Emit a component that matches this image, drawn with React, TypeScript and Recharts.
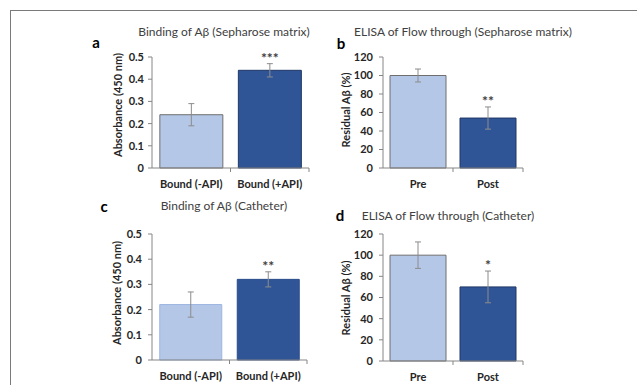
import React from 'react';
import { BarChart, Bar, XAxis, YAxis, ErrorBar, Cell, LabelList } from 'recharts';

// categories
const bindingCategories = ['Bound (-API)', 'Bound (+API)'];
const flowCategories = ['Pre', 'Post'];

// panel a: binding of Aβ, sepharose matrix
const sepharoseBinding = [0.24, 0.44];
const sepharoseBindingErr = [0.05, 0.03];
const sepharoseBindingSig = ['', '***'];

// panel b: ELISA of flow through, sepharose matrix
const sepharoseFlow = [100, 54];
const sepharoseFlowErr = [7, 12];
const sepharoseFlowSig = ['', '**'];

// panel c: binding of Aβ, catheter
const catheterBinding = [0.22, 0.32];
const catheterBindingErr = [0.05, 0.03];
const catheterBindingSig = ['', '**'];

// panel d: ELISA of flow through, catheter
const catheterFlow = [100, 70];
const catheterFlowErr = [12.5, 15];
const catheterFlowSig = ['', '*'];

// tick labels
const absorbanceTicks = [0, 0.1, 0.2, 0.3, 0.4, 0.5];
const residualTicks = [0, 20, 40, 60, 80, 100, 120];

const FONT = 'Lato, "Open Sans", sans-serif';
const AXIS = '#868686';
const LIGHT = '#b4c7e7';
const DARK = '#2f5597';

type Row = { name: string; value: number; err: number; sig: string };

const makeRows = (cats: string[], vals: number[], errs: number[], sigs: string[]): Row[] =>
  cats.map((c, i) => ({ name: c, value: vals[i], err: errs[i], sig: sigs[i] }));

function XTick(props: any) {
  const { x, y, payload, half } = props;
  return (
    <g>
      <line x1={x + half} y1={y} x2={x + half} y2={y + 4} stroke={AXIS} />
      <text x={x} y={y + 19.5} textAnchor="middle" fontFamily={FONT} fontWeight={700} fontSize={11} fill="#262626">
        {payload.value}
      </text>
    </g>
  );
}

const starLabel = (rows: Row[]) => (props: any) => {
  const vb = props.viewBox || props;
  const { x, y, width, height } = vb;
  const row = rows[props.index];
  if (!row || !row.sig) return null;
  const pxPerUnit = height / row.value;
  const top = y - row.err * pxPerUnit - 1;
  return (
    <text x={x + width / 2} y={top} textAnchor="middle" fontFamily={FONT} fontWeight={700} fontSize={14} fill="#404040">
      {row.sig}
    </text>
  );
};

interface PanelProps {
  left: number;
  top: number;
  axisWidth: number;
  plotWidth: number;
  marginTop: number;
  plotHeight: number;
  rows: Row[];
  ticks: number[];
  tickMargin: number;
  lightStroke: string;
  darkStroke: string;
}

function Panel({ left, top, axisWidth, plotWidth, marginTop, plotHeight, rows, ticks, tickMargin, lightStroke, darkStroke }: PanelProps) {
  const width = axisWidth + plotWidth + 4;
  const height = marginTop + plotHeight + 25;
  const half = plotWidth / rows.length / 2;
  return (
    <div style={{ position: 'absolute', left, top }}>
      <BarChart
        width={width}
        height={height}
        data={rows}
        margin={{ top: marginTop, right: 4, bottom: 0, left: 0 }}
        barCategoryGap="10%"
      >
        <XAxis
          dataKey="name"
          height={25}
          interval={0}
          axisLine={{ stroke: AXIS }}
          tickLine={false}
          tickSize={0}
          tickMargin={0}
          tick={(p: any) => <XTick {...p} half={half} />}
        />
        <YAxis
          width={axisWidth}
          domain={[ticks[0], ticks[ticks.length - 1]]}
          ticks={ticks}
          interval={0}
          axisLine={{ stroke: AXIS }}
          tickLine={{ stroke: AXIS }}
          tickSize={4}
          tickMargin={tickMargin}
          tick={{ fontFamily: FONT, fontWeight: 700, fontSize: 11, fill: '#262626' }}
        />
        <Bar dataKey="value" isAnimationActive={false} strokeWidth={1}>
          {rows.map((r, i) => (
            <Cell key={r.name} fill={i === 0 ? LIGHT : DARK} stroke={i === 0 ? lightStroke : darkStroke} />
          ))}
          <ErrorBar dataKey="err" width={3} stroke="#8c8c8c" strokeWidth={1} direction="y" />
          <LabelList dataKey="sig" content={starLabel(rows)} />
        </Bar>
      </BarChart>
    </div>
  );
}

const textAt = (x: number, y: number, extra: React.CSSProperties = {}): React.CSSProperties => ({
  position: 'absolute',
  left: x,
  top: y,
  transform: 'translate(-50%, -50%)',
  whiteSpace: 'nowrap',
  fontFamily: FONT,
  lineHeight: 1,
  ...extra,
});

const titleStyle = { fontSize: 12, color: '#404040' };
const letterStyle = { fontSize: 15, fontWeight: 700, color: '#000' };
const yLabelStyle = { fontSize: 11, fontWeight: 700, color: '#262626', transform: 'translate(-50%, -50%) rotate(-90deg)' };

export default function App() {
  return (
    <div style={{ position: 'absolute', left: 0, top: 0, width: 637, height: 385, background: '#fff', overflow: 'hidden' }}>
      <div style={{ position: 'absolute', left: 10, top: 10, width: 640, height: 400, borderTop: '1px solid #7a7a7a', borderLeft: '1px solid #7a7a7a' }} />

      <Panel left={82} top={20} axisWidth={70} plotWidth={157} marginTop={37} plotHeight={111}
        rows={makeRows(bindingCategories, sepharoseBinding, sepharoseBindingErr, sepharoseBindingSig)}
        ticks={absorbanceTicks} tickMargin={4} lightStroke="#6f6f6f" darkStroke="#1f3864" />
      <Panel left={307} top={20} axisWidth={76} plotWidth={140} marginTop={37} plotHeight={111}
        rows={makeRows(flowCategories, sepharoseFlow, sepharoseFlowErr, sepharoseFlowSig)}
        ticks={residualTicks} tickMargin={6} lightStroke="#6f6f6f" darkStroke="#1f3864" />
      <Panel left={80} top={200} axisWidth={72} plotWidth={155} marginTop={34} plotHeight={126}
        rows={makeRows(bindingCategories, catheterBinding, catheterBindingErr, catheterBindingSig)}
        ticks={absorbanceTicks} tickMargin={6} lightStroke="#9db5e0" darkStroke="#2a4d8c" />
      <Panel left={307} top={200} axisWidth={76} plotWidth={140} marginTop={34} plotHeight={127}
        rows={makeRows(flowCategories, catheterFlow, catheterFlowErr, catheterFlowSig)}
        ticks={residualTicks} tickMargin={6} lightStroke="#6f6f6f" darkStroke="#1f3864" />

      <div style={textAt(224, 32, titleStyle)}>Binding of Aβ (Sepharose matrix)</div>
      <div style={textAt(463, 32, titleStyle)}>ELISA of Flow through (Sepharose matrix)</div>
      <div style={textAt(224, 206, titleStyle)}>Binding of Aβ (Catheter)</div>
      <div style={textAt(448, 216, titleStyle)}>ELISA of Flow through (Catheter)</div>

      <div style={textAt(96, 42, letterStyle)}>a</div>
      <div style={textAt(341, 43, letterStyle)}>b</div>
      <div style={textAt(104, 206, letterStyle)}>c</div>
      <div style={textAt(340, 215, letterStyle)}>d</div>

      <div style={textAt(117, 105, yLabelStyle)}>Absorbance  (450 nm)</div>
      <div style={textAt(345, 110, yLabelStyle)}>Residual Aβ (%)</div>
      <div style={textAt(116, 293, yLabelStyle)}>Absorbance  (450 nm)</div>
      <div style={textAt(345, 298, yLabelStyle)}>Residual Aβ (%)</div>
    </div>
  );
}
